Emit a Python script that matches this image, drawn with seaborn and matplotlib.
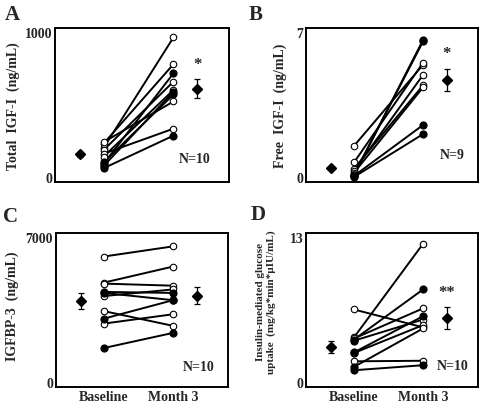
import numpy as np
import pandas as pd
import matplotlib
matplotlib.use("Agg")
import matplotlib.pyplot as plt
import seaborn as sns

sns.set_style("white")
plt.rcParams["font.family"] = ["Liberation Serif", "DejaVu Serif"]
plt.rcParams["font.weight"] = "bold"

# ---------------- data ----------------
timepoints = ["Baseline", "Month 3"]

# Panel A: Total IGF-I (ng/mL)
a_base = [200, 230, 90, 185, 75, 100, 240, 160, 60, 140]
a_m3 = [963, 778, 715, 658, 588, 569, 521, 333, 285, 600]
a_base_filled = [False, False, True, False, True, True, False, False, True, False]
a_m3_filled = [False, False, True, False, True, True, False, False, True, False]
a_mean = [155, 609]
a_err = [20, 65]

# Panel B: Free IGF-I (ng/mL)
b_base = [1.5, 0.7, 0.4, 0.3, 0.2, 0.1, 0.1, 0.05, 0.0]
b_m3 = [5.42, 5.52, 4.43, 4.93, 4.33, 6.62, 6.55, 2.51, 2.07]
b_base_filled = [False, False, False, False, False, True, True, True, True]
b_m3_filled = [False, False, False, False, False, True, True, True, True]
b_mean = [0.44, 4.70]
b_err = [0.08, 0.53]

# Panel C: IGFBP-3 (ng/mL)
c_base = [6060, 4800, 4750, 4350, 4300, 4150, 3420, 3060, 2820, 1640]
c_m3 = [6550, 5575, 4650, 4300, 3950, 4470, 2710, 3950, 3270, 2370]
c_base_filled = [False, False, False, True, True, False, False, True, False, True]
c_m3_filled = [False, False, False, True, True, False, False, True, False, True]
c_mean = [3920, 4170]
c_err = [400, 400]

# Panel D: Insulin-mediated glucose uptake
d_base = [6.5, 4.0, 3.8, 3.7, 2.65, 2.6, 1.85, 1.35, 1.05, 3.9]
d_m3 = [4.9, 12.4, 8.3, 5.6, 5.9, 5.1, 1.9, 4.8, 1.5, 6.6]
d_base_filled = [False, False, True, True, True, True, False, True, True, False]
d_m3_filled = [False, False, True, False, True, False, False, False, True, False]
d_mean = [3.13, 5.72]
d_err = [0.55, 1.0]

panels = [
    dict(letter="A", base=a_base, m3=a_m3, bf=a_base_filled, mf=a_m3_filled,
         mean=a_mean, err=a_err, ymax=1000, yticklab="1000",
         ylabel="Total  IGF-I  (ng/mL)", star="*", n="N=10",
         rect=(55, 29, 229, 183), xlabels=False, lab_x=13, lab_y=0.50, lab_fs=10,
         n_pos=(0.80, 0.15), letter_pos=(12, 15)),
    dict(letter="B", base=b_base, m3=b_m3, bf=b_base_filled, mf=b_m3_filled,
         mean=b_mean, err=b_err, ymax=7, yticklab="7",
         ylabel="Free  IGF-I  (ng/mL)", star="*", n="N=9",
         rect=(306, 29, 478, 183), xlabels=False, lab_x=280, lab_y=0.50, lab_fs=10,
         n_pos=(0.85, 0.18), letter_pos=(256, 15)),
    dict(letter="C", base=c_base, m3=c_m3, bf=c_base_filled, mf=c_m3_filled,
         mean=c_mean, err=c_err, ymax=7000, yticklab="7000",
         ylabel="IGFBP-3  (ng/mL)", star=None, n="N=10",
         rect=(56, 234, 228, 388), xlabels=True, lab_x=12, lab_y=0.53, lab_fs=10,
         n_pos=(0.83, 0.13), letter_pos=(10, 217)),
    dict(letter="D", base=d_base, m3=d_m3, bf=d_base_filled, mf=d_m3_filled,
         mean=d_mean, err=d_err, ymax=13, yticklab="13",
         ylabel="Insulin-mediated glucose\nuptake  (mg/kg*min*µIU/mL)", star="**", n="N=10",
         rect=(306, 234, 478, 388), xlabels=True, lab_x=266, lab_y=0.56, lab_fs=8,
         n_pos=(0.855, 0.14), letter_pos=(258, 215)),
]

W, H = 482, 410
fig = plt.figure(figsize=(W / 100, H / 100), dpi=100)

x_pos = [0, 2]
sum_off = 0.68

for p in panels:
    l, t, r, b = p["rect"]
    ax = fig.add_axes([l / W, 1 - b / H, (r - l) / W, (b - t) / H])
    n = len(p["base"])
    df = pd.DataFrame({
        "subj": list(range(n)) * 2,
        "x": [x_pos[0]] * n + [x_pos[1]] * n,
        "val": list(p["base"]) + list(p["m3"]),
        "filled": list(p["bf"]) + list(p["mf"]),
    })
    sns.lineplot(data=df, x="x", y="val", units="subj", estimator=None,
                 color="black", lw=1.4, ax=ax, legend=False)
    sns.scatterplot(data=df[~df["filled"]], x="x", y="val", marker="o", s=22,
                    facecolor="white", edgecolor="black", linewidth=0.8, ax=ax,
                    zorder=3, legend=False)
    sns.scatterplot(data=df[df["filled"]], x="x", y="val", marker="o", s=26,
                    color="black", edgecolor="black", linewidth=0.8, ax=ax,
                    zorder=4, legend=False)
    # summary mean +/- error
    sx = [x_pos[0] - sum_off, x_pos[1] + sum_off]
    ax.errorbar(sx, p["mean"], yerr=p["err"], fmt="D", color="black",
                markersize=5.5, capsize=2.5, elinewidth=0.9, capthick=0.9, zorder=5)
    ymax = p["ymax"]
    ax.set_ylim(-0.035 * ymax, 1.028 * ymax)
    ax.set_xlim(-1.39, 3.59)
    ax.set_yticks([0, ymax])
    ax.set_yticklabels(["0", p["yticklab"]], fontsize=10, fontweight="bold")
    ax.set_xticks(x_pos)
    if p["xlabels"]:
        ax.set_xticklabels(timepoints, fontsize=10, fontweight="bold")
    else:
        ax.set_xticklabels([])
    ax.tick_params(axis="both", length=0, pad=2)
    ax.set_xlabel("")
    ax.set_ylabel("")
    for s in ax.spines.values():
        s.set_visible(True)
        s.set_color("black")
        s.set_linewidth(1.4)
    if p["star"]:
        ax.text(sx[1], p["mean"][1] + p["err"][1] + 0.05 * ymax, p["star"],
                ha="center", va="bottom", fontsize=12, fontweight="bold")
    ax.text(p["n_pos"][0], p["n_pos"][1], p["n"], transform=ax.transAxes,
            ha="center", va="center", fontsize=10, fontweight="bold")
    # y label
    lx = (p["lab_x"] - l) / (r - l)
    ax.text(lx, p["lab_y"], p["ylabel"], transform=ax.transAxes, rotation=90,
            ha="center", va="center", fontsize=p["lab_fs"], fontweight="bold",
            multialignment="center", linespacing=1.1)
    fig.text(p["letter_pos"][0] / W, 1 - p["letter_pos"][1] / H, p["letter"],
             ha="center", va="center", fontsize=15, fontweight="bold")

fig.savefig("out.png", dpi=100)
